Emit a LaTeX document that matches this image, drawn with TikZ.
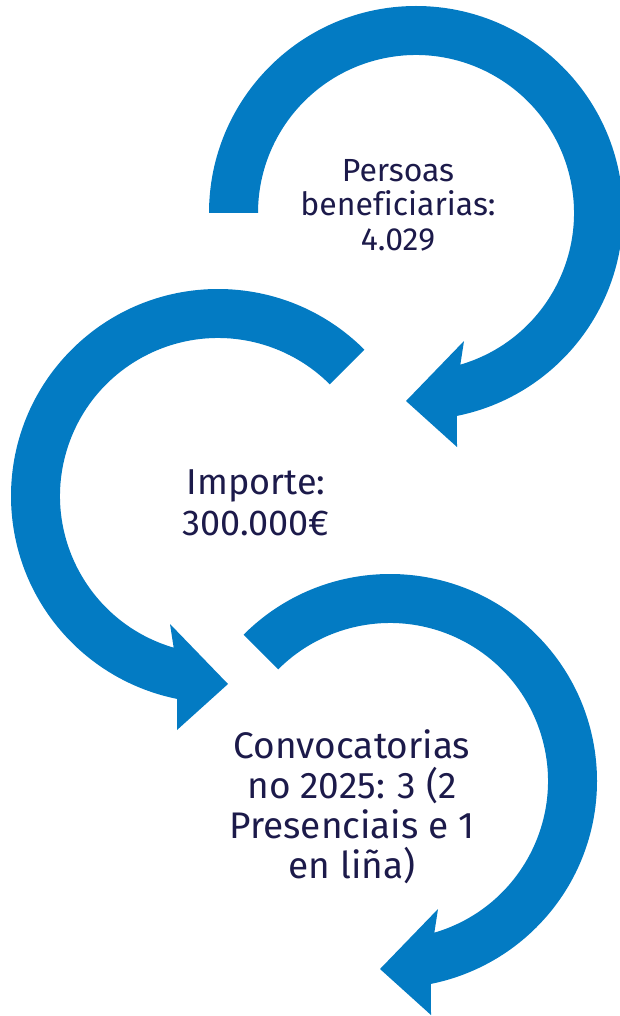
\documentclass[tikz,border=0pt]{standalone}
\usepackage{fontspec}
\setmainfont{Fira Sans}[Ligatures=NoCommon]
\definecolor{arrowblue}{HTML}{037BC3}
\definecolor{textnavy}{HTML}{1C1A4A}
\begin{document}
\begin{tikzpicture}[x=1pt,y=1pt,
  circarrow/.style={fill=arrowblue,draw=none},
  label/.style={text=textnavy,align=center,inner sep=0pt,anchor=base}]
\useasboundingbox (0,0) rectangle (619,-1016);
% arrow 1 (top right), clockwise
\begin{scope}[shift={(416,-213)}]
  \fill[circarrow] (180:207) arc[start angle=180, end angle=-78.6, radius=207]
    -- (41,-234) -- (-10,-188) -- (48,-128)
    -- (-73.7:158) arc[start angle=-73.7, end angle=180, radius=158] -- cycle;
\end{scope}
% arrow 2 (middle left), counter-clockwise
\begin{scope}[shift={(218,-496)}]
  \fill[circarrow] (45:207) arc[start angle=45, end angle=258.6, radius=207]
    -- (-41,-234) -- (10,-188) -- (-48,-128)
    -- (253.7:158) arc[start angle=253.7, end angle=45, radius=158] -- cycle;
\end{scope}
% arrow 3 (bottom right), clockwise
\begin{scope}[shift={(390,-781)}]
  \fill[circarrow] (135:207) arc[start angle=135, end angle=-78.6, radius=207]
    -- (41,-234) -- (-10,-188) -- (48,-128)
    -- (-73.7:158) arc[start angle=-73.7, end angle=135, radius=158] -- cycle;
\end{scope}
\node[label,font=\fontsize{32}{34}\selectfont] (t1) at (398,-250) {Persoas\\beneficiarias:\\4.029};
\node[label,font=\fontsize{36}{41}\selectfont] (t2) at (256,-535) {Importe:\\300.000€};
\node[label,font=\fontsize{37}{40}\selectfont] (t3) at (352,-878) {Convocatorias\\no 2025: 3 (2\\Presenciais e 1\\en liña)};
\end{tikzpicture}
\end{document}
